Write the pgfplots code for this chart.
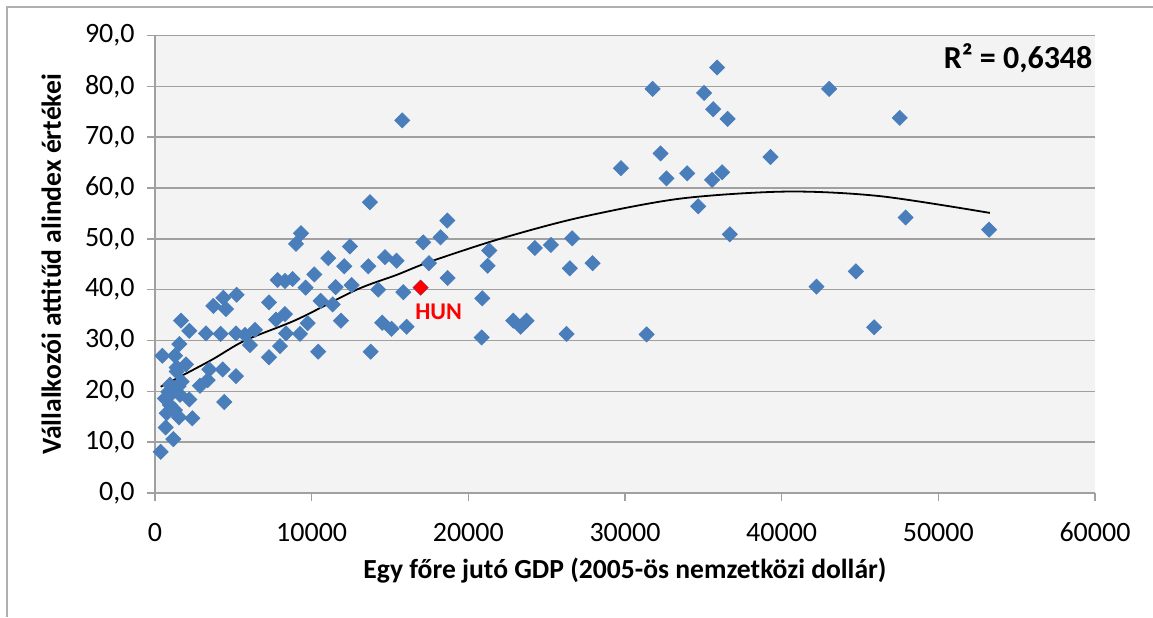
\documentclass[border=0pt]{standalone}
\usepackage{fontspec}
\setmainfont{Carlito}
\usepackage{pgfplots}
\pgfplotsset{compat=1.18}
\definecolor{ptblue}{RGB}{74,126,187}
\definecolor{gridgray}{RGB}{160,160,160}
\definecolor{areagray}{RGB}{243,243,243}
\definecolor{framegray}{RGB}{175,175,175}

\begin{document}
\begin{tikzpicture}
% page = 1153 x 617 px, 1 px = 0.5pt
\useasboundingbox (0,0) rectangle (576.5pt,308.5pt);
\draw[framegray, line width=0.8pt] (3.6pt,0) -- (3.6pt,305pt) -- (576.5pt,305pt);
\begin{axis}[
  at={(77.5pt,62pt)}, anchor=south west,
  scale only axis,
  width=470pt, height=228.75pt,
  xmin=0, xmax=60000,
  ymin=0, ymax=90,
  xtick={0,10000,...,60000},
  ytick={0,10,...,90},
  scaled x ticks=false,
  axis background/.style={fill=areagray},
  axis x line*=bottom, axis y line*=left,
  axis line style={gridgray, line width=0.7pt},
  ymajorgrids=true,
  grid style={gridgray, line width=0.7pt},
  tick align=outside,
  major tick length=4pt,
  tick style={gridgray, line width=0.7pt},
  font=\fontsize{14}{16}\selectfont,
  /pgf/number format/assume math mode=true,
  x tick label style={/pgf/number format/1000 sep={}},
  y tick label style={/pgf/number format/fixed, /pgf/number format/fixed zerofill,
    /pgf/number format/precision=1, /pgf/number format/use comma},
  xticklabel style={inner sep=0pt, anchor=north, yshift=-10.8pt},
  yticklabel style={inner sep=0pt, anchor=east, xshift=-6pt},
  xlabel={\bfseries Egy főre jutó GDP (2005-ös nemzetközi dollár)},
  ylabel={\bfseries Vállalkozói attitűd alindex értékei},
  xlabel style={at={(axis description cs:0.5,-0.1875)}, anchor=base, font=\fontsize{13.8}{16}\selectfont},
  ylabel style={at={(axis description cs:-0.1,0.5)}, anchor=base, font=\fontsize{13.8}{16}\selectfont},
  clip=false,
]
\addplot[only marks, mark=square*, mark size=2.65pt,
  mark options={rotate=45, fill=ptblue, draw=ptblue}]
  coordinates {
  (13720,57.2) (9317,51.1) (9000,49.0) (12444,48.5) (17120,49.3)
  (11060,46.2) (14680,46.4) (15420,45.7) (12080,44.6) (13615,44.6)
  (10170,43.0) (7830,41.9) (8296,41.7) (8787,42.1) (9615,40.4)
  (11530,40.5) (12550,40.9) (14250,40.0) (15850,39.5) (16955,40.4)
  (5213,39.0) (4360,38.4) (3723,36.8) (4530,36.2) (7275,37.5)
  (7722,34.1) (8296,35.2) (10574,37.8) (11340,37.1) (9745,33.4)
  (11870,33.9) (14506,33.5) (15100,32.3) (16060,32.7) (1660,33.9)
  (2190,31.9) (3255,31.4) (4190,31.3) (5170,31.4) (5743,31.1)
  (6382,32.1) (6062,29.1) (8360,31.4) (9254,31.3) (7977,28.9)
  (1553,29.3) (10420,27.8) (13765,27.8) (7275,26.7) (468,27.0)
  (1276,27.0) (1978,25.3) (1383,24.7) (3466,24.3) (4320,24.3)
  (5170,23.0) (3363,22.2) (2872,21.1) (1702,21.9) (4420,17.9)
  (2383,14.7) (1532,14.9) (680,12.9) (1170,10.6) (362,8.1)
  (2190,18.4) (1383,23.9) (957,21.3) (1063,19.6) (638,18.6)
  (1595,19.3) (957,17.3) (1276,16.3) (745,15.7) (1500,21.0)
  (1250,20.5) (850,19.9)
  (15784,73.3) (18230,50.3) (18660,53.6) (21335,47.7) (21230,44.7)
  (24250,48.2) (25270,48.8) (26630,50.1) (26480,44.2) (17485,45.2)
  (18680,42.3) (20890,38.3) (20850,30.6) (22870,33.9) (23340,32.7)
  (23720,33.9) (26270,31.3) (29740,63.9) (32270,66.8) (32650,61.9)
  (33970,62.9) (34670,56.4) (27930,45.2) (31380,31.2) (35880,83.7)
  (31760,79.5) (35050,78.7) (35630,75.5) (36550,73.6) (43030,79.5)
  (39290,66.1) (35560,61.6) (36200,63.1) (36690,50.9) (42220,40.6)
  (44740,43.6) (45900,32.6) (47540,73.8) (47910,54.2) (53240,51.8)
  };
\addplot[only marks, mark=square*, mark size=2.5pt,
  mark options={rotate=45, fill=red, draw=red}]
  coordinates {(16955,40.4)};
\addplot[black, line width=0.9pt, smooth]
  coordinates {
  (362,20.9) (3510,26.0) (5743,30.0) (9040,34.1) (12870,40.0)
  (15420,42.9) (17550,45.5) (22020,50.0) (27120,54.2) (33500,57.9)
  (40310,59.3) (46270,58.4) (53290,55.1)
  };
\node[anchor=base west, inner sep=0pt, text=red, font=\fontsize{12}{14}\selectfont\bfseries]
  at (axis cs:16592,34.2) {HUN};
\node[anchor=base east, inner sep=0pt, font=\fontsize{16}{19}\selectfont\bfseries]
  at (axis cs:59860,83.6) {R² = 0,6348};
\end{axis}
\end{tikzpicture}
\end{document}
